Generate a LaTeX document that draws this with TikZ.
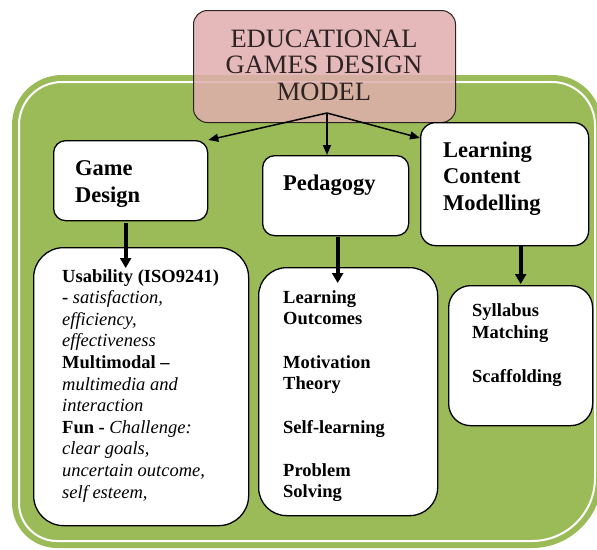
\documentclass[tikz,border=0pt]{standalone}
\usepackage{fontspec}
\setmainfont{Liberation Serif}
\usetikzlibrary{arrows.meta}
\definecolor{leaf}{HTML}{9BBB59}
\definecolor{rose}{RGB}{224,173,173}
\definecolor{ink}{RGB}{45,35,35}
\tikzset{
  box/.style={draw=black, line width=1.3pt, fill=white, anchor=north west, inner sep=0pt},
  head/.style={anchor=base west, align=left, inner sep=0pt, font=\fontsize{22.5}{26.5}\selectfont\bfseries},
  item/.style={anchor=base west, align=left, inner sep=0pt, font=\fontsize{18.5}{21.6}\selectfont},
  thin arrow/.style={line width=1.5pt, -{Triangle[length=10pt,width=8pt]}},
  thick arrow/.style={line width=4pt, -{Triangle[length=10pt,width=11pt]}},
}
\begin{document}
\begin{tikzpicture}[x=1pt,y=-1pt]
\useasboundingbox (0,0) rectangle (597,549);
% green frame
\fill[leaf] (12,300) [rounded corners=50pt] -- (12,75) -- (300,75) [rounded corners=50pt] -- (602,75) -- (602,300)
  [rounded corners=70pt] -- (602,548) -- (300,548) [rounded corners=45pt] -- (12,548) -- (12,300) -- cycle;
\draw[white, line width=2pt] (19,300) [rounded corners=43pt] -- (19,82) -- (300,82) [rounded corners=43pt] -- (595,82) -- (595,300)
  [rounded corners=63pt] -- (595,541) -- (300,541) [rounded corners=38pt] -- (19,541) -- (19,300) -- cycle;
% title
\node[draw=ink, line width=1pt, fill=rose, fill opacity=0.85, rounded corners=14pt, anchor=north west,
  minimum width=262pt, minimum height=112pt] (title) at (193,10) {};
\node[anchor=base, align=center, inner sep=0pt, text=ink, font=\fontsize{26.5}{26.5}\selectfont] (titletxt) at (324,100)
  {EDUCATIONAL\\GAMES DESIGN\\MODEL};
% first row
\node[box, rounded corners=12pt, minimum width=154pt, minimum height=80pt] (game) at (53,140) {};
\node[head] (gametxt) at (75,202) {Game\\Design};
\node[box, rounded corners=12pt, minimum width=146pt, minimum height=80pt] (peda) at (262,155) {};
\node[head] (pedatxt) at (283,190) {Pedagogy};
\node[box, rounded corners=15pt, minimum width=168pt, minimum height=123pt] (lcm) at (420,122) {};
\node[head] (lcmtxt) at (443,210) {Learning\\Content\\Modelling};
% second row
\node[box, rounded corners=30pt, minimum width=215pt, minimum height=278pt] (usab) at (33,247) {};
\node[item] (usabtxt) at (62,498) {\textbf{Usability (ISO9241)}\\
  \textbf{-} \textit{satisfaction,}\\
  \textit{efficiency,}\\
  \textit{effectiveness}\\
  \textbf{Multimodal –}\\
  \textit{multimedia and}\\
  \textit{interaction}\\
  \textbf{Fun -} \textit{Challenge:}\\
  \textit{clear goals,}\\
  \textit{uncertain outcome,}\\
  \textit{self esteem,}};
\node[box, rounded corners=28pt, minimum width=179pt, minimum height=248pt] (topics) at (258,267) {};
\node[item, font=\fontsize{18.5}{21}\selectfont\bfseries] (topicstxt) at (283,497) {Learning\\Outcomes\\[23pt]
  Motivation\\Theory\\[23pt]Self-learning\\[22pt]Problem\\Solving};
\node[box, rounded corners=22pt, minimum width=144pt, minimum height=140pt] (sylla) at (448,285) {};
\node[item, font=\fontsize{18.5}{22.5}\selectfont\bfseries] (syllatxt) at (472,382) {Syllabus\\Matching\\[21pt]Scaffolding};
% arrows
\coordinate (apex) at (327,113);
\draw[thin arrow] (apex) -- (game.north east);
\draw[thin arrow] (apex) -- (apex |- peda.north);
\draw[thin arrow] (apex) -- ([yshift=-16pt]lcm.north west);
\draw[thick arrow] ([xshift=-5pt,yshift=-2pt]game.south) -- ([xshift=-5pt]game.south |- 0,268);
\draw[thick arrow] ([xshift=2pt,yshift=-1pt]peda.south) -- ([xshift=2pt]peda.south |- 0,283);
\draw[thick arrow] ([xshift=16pt]lcm.south) -- ([xshift=16pt]lcm.south |- 0,284);
\end{tikzpicture}
\end{document}
